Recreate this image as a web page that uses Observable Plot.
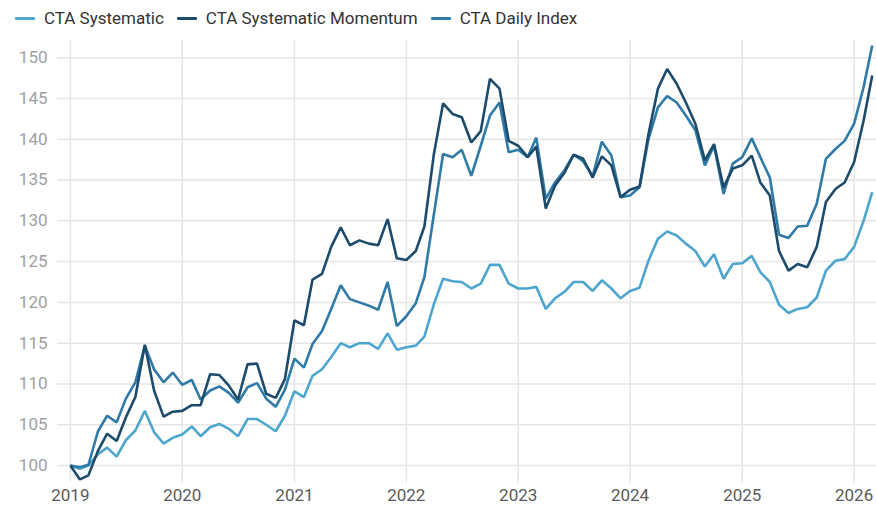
<!DOCTYPE html>
<html><head><meta charset="utf-8">
<script src="https://cdn.jsdelivr.net/npm/d3@7"></script>
<script src="https://cdn.jsdelivr.net/npm/@observablehq/plot@0.6"></script>
<style>
body{margin:0;background:#fff;font-family:Roboto,sans-serif;}
#legend{height:36px;display:flex;align-items:center;padding-left:15px;font-size:17px;color:#333;}
.item{display:flex;align-items:center;margin-right:13px;}
.sw{width:20px;height:3px;margin-right:9px;border-radius:1px;}
</style></head><body>
<div id="legend"></div><div id="chart"></div>
<script>
const months = [
"2019-01","2019-02","2019-03","2019-04","2019-05","2019-06","2019-07","2019-08","2019-09","2019-10","2019-11","2019-12",
"2020-01","2020-02","2020-03","2020-04","2020-05","2020-06","2020-07","2020-08","2020-09","2020-10","2020-11","2020-12",
"2021-01","2021-02","2021-03","2021-04","2021-05","2021-06","2021-07","2021-08","2021-09","2021-10","2021-11","2021-12",
"2022-01","2022-02","2022-03","2022-04","2022-05","2022-06","2022-07","2022-08","2022-09","2022-10","2022-11","2022-12",
"2023-01","2023-02","2023-03","2023-04","2023-05","2023-06","2023-07","2023-08","2023-09","2023-10","2023-11","2023-12",
"2024-01","2024-02","2024-03","2024-04","2024-05","2024-06","2024-07","2024-08","2024-09","2024-10","2024-11","2024-12",
"2025-01","2025-02","2025-03","2025-04","2025-05","2025-06","2025-07","2025-08","2025-09","2025-10","2025-11","2025-12",
"2026-01","2026-02","2026-03"];

const seriesNames = ["CTA Systematic", "CTA Systematic Momentum", "CTA Daily Index"];
const seriesColors = ["#4ea6cf", "#1d4b6c", "#2f7aa6"];

const ctaSystematic = [
100,99.6,100,101.4,102.2,101.1,103.1,104.3,106.7,104.1,102.7,103.4,
103.8,104.8,103.6,104.7,105.1,104.5,103.6,105.7,105.7,105.0,104.2,106.1,
109.1,108.4,111.0,111.8,113.3,115.0,114.5,115.0,115.0,114.3,116.2,114.2,
114.5,114.7,115.8,119.8,122.9,122.6,122.5,121.7,122.3,124.6,124.6,122.3,
121.7,121.7,121.9,119.2,120.5,121.3,122.5,122.5,121.4,122.7,121.7,120.5,
121.4,121.8,125.1,127.8,128.7,128.2,127.2,126.3,124.4,125.9,122.9,124.7,
124.8,125.7,123.7,122.5,119.7,118.7,119.2,119.4,120.6,123.9,125.1,125.3,
126.8,130.0,133.5];

const ctaMomentum = [
100,98.3,98.8,101.8,103.9,103.0,105.9,108.4,114.8,109.2,106.0,106.6,
106.7,107.4,107.4,111.2,111.1,109.8,108.1,112.4,112.5,108.8,108.3,110.6,
117.8,117.2,122.8,123.5,126.8,129.2,127.0,127.6,127.2,127.0,130.2,125.4,
125.2,126.3,129.3,138.2,144.4,143.1,142.7,139.6,141.0,147.4,146.2,139.8,
139.2,137.8,139.1,131.5,134.3,135.9,138.1,137.6,135.3,137.9,136.8,132.9,
133.8,134.2,140.6,146.2,148.6,146.8,144.5,141.9,137.4,139.4,134.1,136.4,
136.8,138.0,134.7,133.1,126.3,123.9,124.7,124.3,126.8,132.3,133.9,134.7,
137.2,142.3,147.8];

const ctaDaily = [
100,99.8,100.1,104.2,106.1,105.3,108.2,110.2,114.7,111.8,110.2,111.4,
109.9,110.5,108.1,109.2,109.7,108.9,107.7,109.6,110.1,108.2,107.2,109.3,
113.1,112.0,114.9,116.5,119.2,122.1,120.4,120.0,119.6,119.1,122.5,117.1,
118.3,119.9,123.1,130.8,138.2,137.8,138.7,135.5,139.2,142.9,144.5,138.4,
138.7,137.8,140.2,132.7,134.7,136.2,138.1,137.3,135.5,139.7,138.0,132.9,
133.1,134.1,140.0,143.9,145.3,144.5,142.9,141.1,136.8,139.2,133.3,137.0,
137.8,140.1,137.8,135.3,128.3,127.9,129.3,129.4,132.1,137.6,138.8,139.8,
141.9,146.4,151.5];

const yTicks = [100,105,110,115,120,125,130,135,140,145,150];
const xTickYears = ["2019","2020","2021","2022","2023","2024","2025","2026"];

const seriesValues = [ctaSystematic, ctaMomentum, ctaDaily];
const drawOrder = [0, 2, 1];
const data = [];
for (const s of drawOrder) {
  months.forEach((m, i) => data.push({series: seriesNames[s], date: new Date(m + "-01T00:00:00Z"), value: seriesValues[s][i]}));
}
const xTicks = xTickYears.map(y => new Date(y + "-01-01T00:00:00Z"));

// legend
const legend = document.getElementById("legend");
seriesNames.forEach((n, i) => {
  const it = document.createElement("div"); it.className = "item";
  const sw = document.createElement("div"); sw.className = "sw"; sw.style.background = seriesColors[i];
  const t = document.createElement("span"); t.textContent = n;
  it.appendChild(sw); it.appendChild(t); legend.appendChild(it);
});

const chart = Plot.plot({
  width: 876, height: 471,
  marginLeft: 57, marginRight: 0, marginTop: 4, marginBottom: 24,
  style: {fontFamily: "Roboto, sans-serif", fontSize: "17px", background: "white", overflow: "visible"},
  x: {type: "utc", domain: [new Date("2018-11-20T00:00:00Z"), new Date("2026-03-15T00:00:00Z")]},
  y: {domain: [97.8, 152.1]},
  color: {domain: seriesNames, range: seriesColors},
  marks: [
    Plot.gridY(yTicks, {stroke: "#e6e6e6", strokeOpacity: 1, strokeWidth: 1.5}),
    Plot.gridX(xTicks, {stroke: "#e6e6e6", strokeOpacity: 1, strokeWidth: 1.5}),
    Plot.axisY(yTicks, {tickSize: 0, tickPadding: 10, color: "#a0a0a0", fontSize: 17, label: null}),
    Plot.axisX(xTicks, {tickSize: 0, tickPadding: 5, tickFormat: d3.utcFormat("%Y"), color: "#5a5a5a", fontSize: 17, label: null}),
    Plot.line(data, {x: "date", y: "value", z: "series", stroke: "series", strokeWidth: 2.6, strokeLinejoin: "miter", strokeLinecap: "butt"})
  ]
});
document.getElementById("chart").appendChild(chart);
</script>
</body></html>
